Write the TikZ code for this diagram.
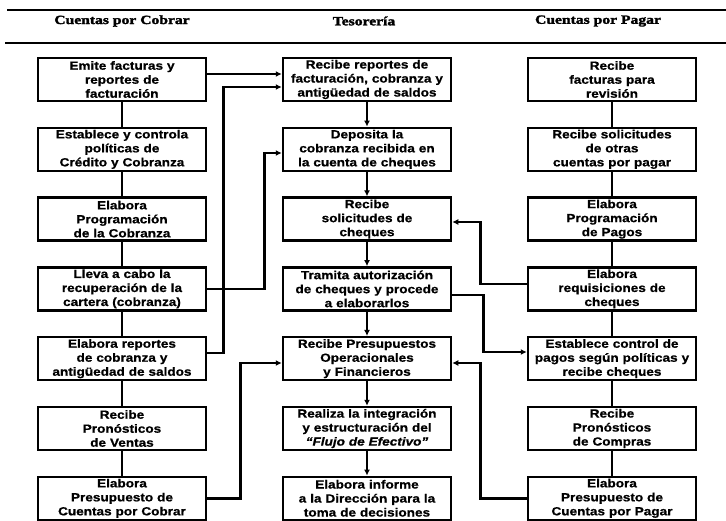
\documentclass[tikz,border=0pt]{standalone}
\usepackage{fontspec}
\setmainfont{Liberation Sans}
\newfontfamily\boxfont{Liberation Sans}[FakeStretch=1.15,BoldFeatures={FakeBold=0.8},BoldItalicFeatures={FakeBold=0.8}]
\newfontfamily\headfont{Liberation Serif}[BoldFeatures={FakeBold=2.2,FakeStretch=1.25}]
\usetikzlibrary{arrows.meta}
\begin{document}
\begin{tikzpicture}[x=1pt,y=-1pt,
  stepbox/.style={draw,line width=2.5pt,text width=160pt,inner xsep=4pt,inner ysep=0pt,
    minimum height=43pt,align=center,
    font=\boxfont\bfseries\fontsize{11.8pt}{14pt}\selectfont},
  headtxt/.style={inner sep=0pt,font=\headfont\bfseries\fontsize{12.5pt}{14pt}\selectfont},
  rule/.style={line width=2pt},
  link/.style={line width=2.6pt},
  arr/.style={line width=2.6pt,-{Latex[length=6pt,width=6pt]}}]
\useasboundingbox (0,0) rectangle (726,520);
% header
\coordinate (r1a) at (7,10);  \coordinate (r1b) at (726,10);
\coordinate (r2a) at (5,43);  \coordinate (r2b) at (726,43);
\draw[rule] (r1a) -- (r1b);
\draw[rule] (r2a) -- (r2b);
\node[headtxt] (h1) at (122,21) {Cuentas por Cobrar};
\node[headtxt] (h2) at (364,21) {Tesorería};
\node[headtxt] (h3) at (598,21) {Cuentas por Pagar};
% left column
\node[stepbox] (L1) at (122,79.5)  {Emite facturas y\\reportes de\\facturación};
\node[stepbox] (L2) at (122,149.3) {Establece y controla\\políticas de\\Crédito y Cobranza};
\node[stepbox] (L3) at (122,219.1) {Elabora\\Programación\\de la Cobranza};
\node[stepbox] (L4) at (122,288.9) {Lleva a cabo la\\recuperación de la\\cartera (cobranza)};
\node[stepbox] (L5) at (122,358.7) {Elabora reportes\\de cobranza y\\antigüedad de saldos};
\node[stepbox] (L6) at (122,428.5) {Recibe\\Pronósticos\\de Ventas};
\node[stepbox] (L7) at (122,498.3) {Elabora\\Presupuesto de\\Cuentas por Cobrar};
% middle column
\node[stepbox] (M1) at (367,79.5)  {Recibe reportes de\\facturación, cobranza y\\antigüedad de saldos};
\node[stepbox] (M2) at (367,149.3) {Deposita la\\cobranza recibida en\\la cuenta de cheques};
\node[stepbox] (M3) at (367,219.1) {Recibe\\solicitudes de\\cheques};
\node[stepbox] (M4) at (367,288.9) {Tramita autorización\\de cheques y procede\\a elaborarlos};
\node[stepbox] (M5) at (367,358.7) {Recibe Presupuestos\\Operacionales\\y Financieros};
\node[stepbox] (M6) at (367,428.5) {Realiza la integración\\y estructuración del\\\textit{“Flujo de Efectivo”}};
\node[stepbox] (M7) at (367,498.3) {Elabora informe\\a la Dirección para la\\toma de decisiones};
% right column
\node[stepbox] (R1) at (612,79.5)  {Recibe\\facturas para\\revisión};
\node[stepbox] (R2) at (612,149.3) {Recibe solicitudes\\de otras\\cuentas por pagar};
\node[stepbox] (R3) at (612,219.1) {Elabora\\Programación\\de Pagos};
\node[stepbox] (R4) at (612,288.9) {Elabora\\requisiciones de\\cheques};
\node[stepbox] (R5) at (612,358.7) {Establece control de\\pagos según políticas y\\recibe cheques};
\node[stepbox] (R6) at (612,428.5) {Recibe\\Pronósticos\\de Compras};
\node[stepbox] (R7) at (612,498.3) {Elabora\\Presupuesto de\\Cuentas por Pagar};
% column links
\foreach \a/\b in {L1/L2,L2/L3,L3/L4,L4/L5,L5/L6,L6/L7,R1/R2,R2/R3,R3/R4,R4/R5,R5/R6,R6/R7}
  \draw[link] (\a.south) -- (\b.north);
\foreach \a/\b in {M1/M2,M2/M3,M3/M4,M4/M5,M5/M6,M6/M7}
  \draw[arr] (\a.south) -- (\b.north);
% cross links
\draw[arr] ([yshift=5.5pt]L1.east) -- ([yshift=5.5pt]M1.west);
\draw[arr] ([yshift=5.7pt]L5.east) -- ++(16pt,0pt) |- ([yshift=-7.5pt]M1.west);
\draw[arr] (L4.east) -- ++(57pt,0pt) |- ([yshift=-3.7pt]M2.west);
\draw[arr] (L7.east) -- ++(33pt,0pt) |- ([yshift=-4.3pt]M5.west);
\draw[arr] ([yshift=4.9pt]R4.west) -- ++(-46pt,0pt) |- ([yshift=-2.9pt]M3.east);
\draw[arr] ([yshift=-6.1pt]M4.east) -- ++(31pt,0pt) |- ([yshift=6.7pt]R5.west);
\draw[arr] (R7.west) -- ++(-46pt,0pt) |- ([yshift=-4.3pt]M5.east);
\end{tikzpicture}
\end{document}
